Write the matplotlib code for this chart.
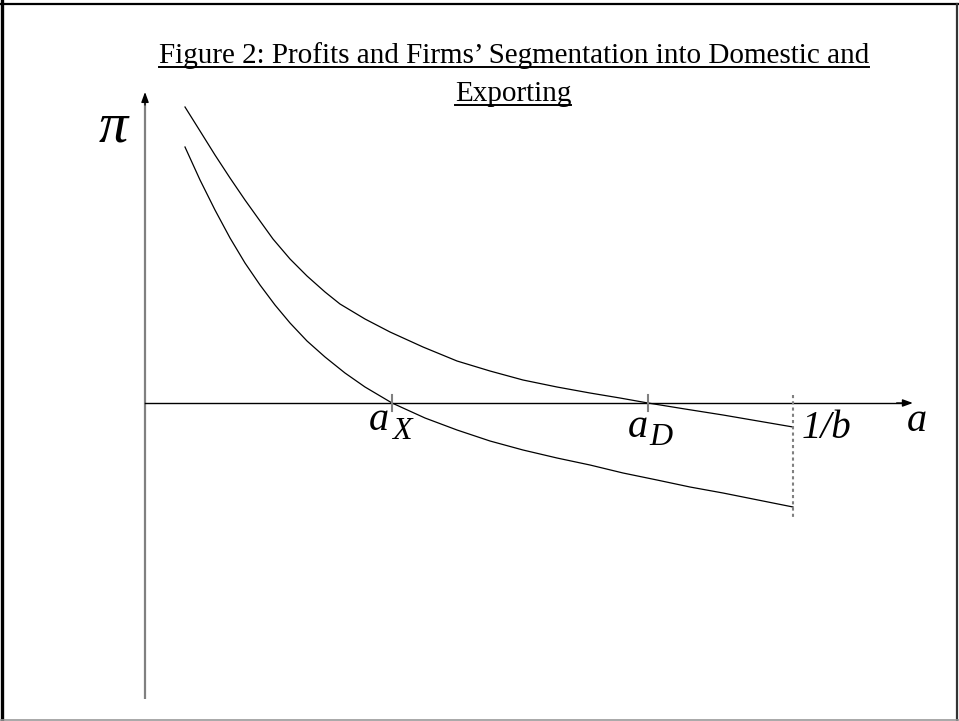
import matplotlib
matplotlib.use('Agg')
import matplotlib.pyplot as plt
from matplotlib.lines import Line2D

plt.rcParams['font.family'] = ['Liberation Serif', 'DejaVu Serif']

# cost a (scaled so that 1/b = 1) and profits pi
a_dom = [0.0617, 0.0849, 0.1080, 0.1312, 0.1543, 0.1775, 0.1975, 0.2238, 0.2500, 0.2778,
         0.3009, 0.3395, 0.3781, 0.4290, 0.4815, 0.5324, 0.5833, 0.6358, 0.6867, 0.7330,
         0.7762, 0.8333, 0.8920, 0.9460, 1.0]
pi_dom = [2.96, 2.72, 2.48, 2.25, 2.03, 1.82, 1.64, 1.44, 1.27, 1.11,
          0.99, 0.84, 0.71, 0.56, 0.42, 0.32, 0.23, 0.16, 0.10, 0.05,
          0.0, -0.06, -0.12, -0.18, -0.24]
a_exp = [0.0617, 0.0849, 0.1080, 0.1312, 0.1543, 0.1775, 0.2006, 0.2238, 0.2500, 0.2778,
         0.3086, 0.3395, 0.3812, 0.4321, 0.4815, 0.5324, 0.5833, 0.6358, 0.6867, 0.7377,
         0.7901, 0.8410, 0.8920, 0.9460, 1.0]
pi_exp = [2.56, 2.23, 1.93, 1.65, 1.40, 1.18, 0.98, 0.80, 0.62, 0.46,
          0.30, 0.16, 0.0, -0.15, -0.27, -0.38, -0.47, -0.55, -0.62, -0.70,
          -0.77, -0.84, -0.90, -0.97, -1.04]

a_X = 0.3812  # export cutoff
a_D = 0.7762  # domestic cutoff
a_max = 1.0   # 1/b

title1 = "Figure 2: Profits and Firms\u2019 Segmentation into Domestic and"
title2 = "Exporting"

fig = plt.figure(figsize=(9.59, 7.21), dpi=100)
ax = fig.add_axes([0, 0, 1, 1])
ax.set_xlim(-0.2238, 1.2562)
ax.set_ylim(-3.18, 4.03)
ax.axis('off')

# axes of the diagram
ax.plot([0, 0], [-2.96, 3.0], color='#808080', lw=1.6, solid_capstyle='butt')
ax.annotate('', xy=(0, 3.11), xytext=(0, 2.98),
            arrowprops=dict(arrowstyle='-|>,head_length=0.6,head_width=0.22',
                            color='black', lw=1, shrinkA=0, shrinkB=0, mutation_scale=10))
ax.plot([0, 1.17], [0, 0], color='black', lw=1)
ax.annotate('', xy=(1.185, 0), xytext=(1.16, 0),
            arrowprops=dict(arrowstyle='-|>,head_length=0.6,head_width=0.22',
                            color='black', lw=1, shrinkA=0, shrinkB=0, mutation_scale=10))

# profit curves
ax.plot(a_dom, pi_dom, color='black', lw=0.9)
ax.plot(a_exp, pi_exp, color='black', lw=0.9)

# cutoffs
for a in [a_X, a_D]:
    ax.plot([a, a], [0.08, -0.08], color='#808080', lw=1.5)
ax.plot([a_max, a_max], [0.08, -1.14], color='#808080', lw=1.5, linestyle=(0, (1.5, 1.5)))

# labels
lab = dict(style='italic', ha='left', va='baseline')
ax.text(0.345, -0.27, 'a', fontsize=29, **lab)
ax.text(0.381, -0.36, 'X', fontsize=23, **lab)
ax.text(0.745, -0.34, 'a', fontsize=29, **lab)
ax.text(0.779, -0.42, 'D', fontsize=23, **lab)
ax.text(1.014, -0.35, '1/b', fontsize=28, **lab)
ax.text(1.176, -0.28, 'a', fontsize=29, **lab)
ax.text(-0.072, 2.61, '\u03c0', fontsize=42, **lab)

# title with underline
W, H = 959, 721
t1 = fig.text(514 / W, 1 - 63 / H, title1, fontsize=21, ha='center', va='baseline')
t2 = fig.text(513 / W, 1 - 101 / H, title2, fontsize=21, ha='center', va='baseline')
renderer = fig.canvas.get_renderer()
for t, yb in [(t1, 67), (t2, 105)]:
    bb = t.get_window_extent(renderer)
    fig.add_artist(Line2D([bb.x0 / W, bb.x1 / W], [1 - yb / H, 1 - yb / H],
                          transform=fig.transFigure, color='black', lw=1.4))

# frame around the slide
fig.add_artist(Line2D([1.5 / W, 1.5 / W], [0, 1], transform=fig.transFigure, color='black', lw=2.4))
fig.add_artist(Line2D([0, 1], [1 - 4 / H, 1 - 4 / H], transform=fig.transFigure, color='black', lw=1.6))
fig.add_artist(Line2D([957 / W, 957 / W], [0, 1 - 4 / H], transform=fig.transFigure, color='#333333', lw=1.6))
fig.add_artist(Line2D([0, 1], [1.5 / H, 1.5 / H], transform=fig.transFigure, color='#999999', lw=1.2))

fig.savefig('out.png', dpi=100)
